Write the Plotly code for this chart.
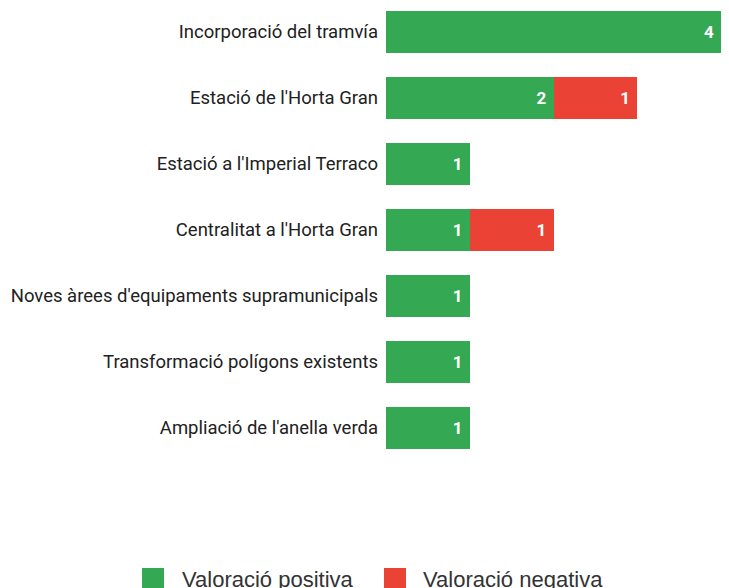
import plotly.graph_objects as go

categories = [
    "Incorporació del tramvía",
    "Estació de l'Horta Gran",
    "Estació a l'Imperial Terraco",
    "Centralitat a l'Horta Gran",
    "Noves àrees d'equipaments supramunicipals",
    "Transformació polígons existents",
    "Ampliació de l'anella verda",
]
positive = [4, 2, 1, 1, 1, 1, 1]
negative = [0, 1, 0, 1, 0, 0, 0]
series_names = ["Valoració positiva", "Valoració negativa"]
colors = ["#34A853", "#EA4335"]

# page body has an 8px margin; lay out in figure pixels
OFF = 8
W, H = 729, 588
SLOT = 66
L = 386 - OFF
PW = 335
R = W - L - PW
T = 0
PH = 453
B = H - T - PH
top_val = -(32 - OFF) / SLOT
bot_val = top_val + PH / SLOT

def lbl(vals):
    return [(str(v) + "\u00a0") if v else "" for v in vals]

fig = go.Figure()
for name, vals, col in zip(series_names, [positive, negative], colors):
    fig.add_trace(go.Bar(
        y=categories, x=vals, name=name, orientation="h",
        marker=dict(color=col, line=dict(width=0)),
        text=lbl(vals), textposition="inside", insidetextanchor="end",
        constraintext="none",
        textfont=dict(family="Roboto", size=17, color="white", weight="bold"),
        hoverinfo="skip", showlegend=False,
    ))

def px_x(p):
    return (p - OFF - L) / PW

def px_y(p):
    return (PH - (p - OFF)) / PH

legend_items = [(142, 180), (384, 421)]
for (sx, tx), name, col in zip(legend_items, series_names, colors):
    fig.add_shape(type="rect", xref="paper", yref="paper",
                  x0=px_x(sx), x1=px_x(sx + 22), y0=px_y(568), y1=px_y(592),
                  fillcolor=col, line=dict(width=0))
    fig.add_annotation(xref="paper", yref="paper", x=px_x(tx), y=px_y(579),
                       xanchor="left", yanchor="middle", showarrow=False,
                       text=name, font=dict(family="Liberation Sans", size=22, color="#333333"))

fig.update_layout(
    width=W, height=H,
    barmode="stack", bargap=0.36,
    margin=dict(l=L, r=R, t=T, b=B, autoexpand=False),
    plot_bgcolor="white", paper_bgcolor="white",
    font=dict(family="Roboto", size=18.5, color="#212121"),
    xaxis=dict(range=[0, 4], visible=False, fixedrange=True),
    yaxis=dict(range=[bot_val, top_val], showgrid=False, ticks="", ticklabelstandoff=7,
               automargin=False,
               tickfont=dict(family="Roboto", size=18.5, color="#212121")),
    showlegend=False,
)

fig.write_html("out.html")
